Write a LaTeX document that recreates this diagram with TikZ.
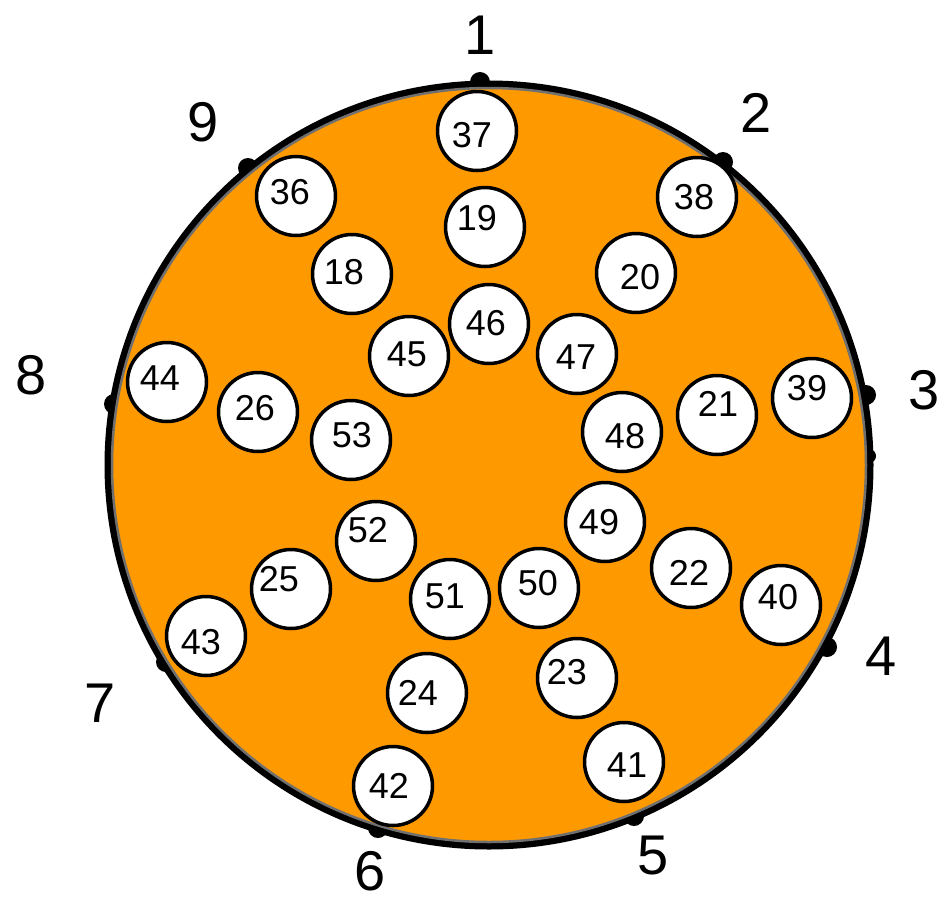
\documentclass[tikz,border=0pt]{standalone}
\usepackage{fontspec}
\setmainfont{Liberation Sans}
\definecolor{disc}{HTML}{FF9900}
\definecolor{rim}{HTML}{707070}
\begin{document}
\begin{tikzpicture}[x=1pt,y=-1pt,
  ball/.style={circle,draw=black,fill=white,line width=3.5pt,minimum size=79pt,inner sep=0pt},
  balltext/.style={inner sep=0pt,font=\fontsize{36}{40}\selectfont},
  bigtext/.style={inner sep=0pt,font=\fontsize{56}{62}\selectfont},
  bump/.style={circle,fill=black,minimum size=20pt,inner sep=0pt}]
\useasboundingbox (0,0) rectangle (951,903);
% outer black band and bumps
\coordinate (ctr) at (489,465);
\draw[black,line width=8pt] (ctr) circle[radius=380.5];
\node[bump] (m1) at (480,82) {};
\node[bump] (m2) at (723,162) {};
\node[bump] (m3) at (866,395) {};
\node[bump,minimum size=14pt] (m3b) at (869,456) {};
\node[bump] (m4) at (827,647) {};
\node[bump] (m5) at (634,816) {};
\node[bump] (m6) at (378,828) {};
\node[bump] (m7) at (166,662) {};
\node[bump] (m8) at (114,404) {};
\node[bump] (m9) at (248,168) {};
% disc
\draw[fill=disc,draw=rim,line width=2.5pt] (ctr) circle[radius=377];
% outer labels
\node[bigtext] (l1) at (480,35) {1};
\node[bigtext] (l2) at (756,113) {2};
\node[bigtext] (l3) at (924,390) {3};
\node[bigtext] (l4) at (881,656) {4};
\node[bigtext] (l5) at (653,855) {5};
\node[bigtext] (l6) at (370,871) {6};
\node[bigtext] (l7) at (100,703) {7};
\node[bigtext] (l8) at (31,375) {8};
\node[bigtext] (l9) at (203,122) {9};
% balls
\foreach \n/\cx/\cy/\tx/\ty in {
 37/477/131/472/135, 19/485/227/477/218, 36/296/196/290/192,
 38/697/197/694/197, 18/352/274/344/272, 20/636/273/640/277,
 46/489/324/486/323, 45/409/356/407/354, 47/577/354/576/357,
 44/167/382/160/378, 26/258/412/255/408, 53/351/440/352/435,
 48/622/432/625/436, 21/717/415/718/404, 39/812/398/807/388,
 52/376/541/368/530, 49/605/522/599/522, 22/691/568/689/573,
 40/781/605/778/597, 25/291/589/279/579, 51/450/599/445/596,
 50/539/588/538/583, 43/206/636/201/642, 24/427/693/418/693,
 23/577/678/567/672, 42/393/786/389/786, 41/624/762/627/765}{
  \node[ball] (b\n) at (\cx,\cy) {};
  \node[balltext] (t\n) at (\tx,\ty) {\n};
}
\end{tikzpicture}
\end{document}
